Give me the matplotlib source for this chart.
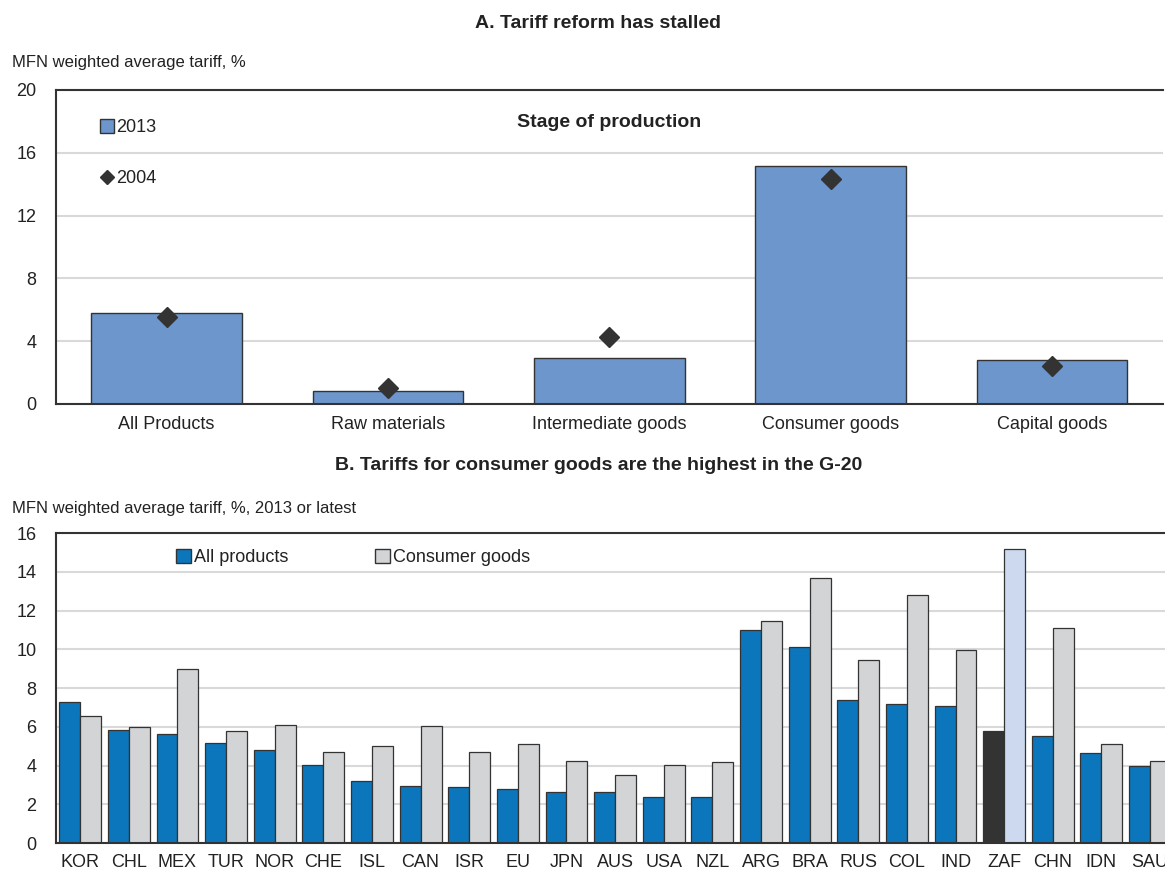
import matplotlib
matplotlib.use('Agg')
import matplotlib.pyplot as plt
import numpy as np
from matplotlib.patches import Patch

plt.rcParams['font.family'] = ['Liberation Sans Narrow', 'Liberation Sans', 'DejaVu Sans']

# panel A
stages = ['All Products', 'Raw materials', 'Intermediate goods', 'Consumer goods', 'Capital goods']
tariff_2013 = [5.77, 0.83, 2.92, 15.16, 2.80]
tariff_2004 = [5.56, 1.0, 4.26, 14.36, 2.44]

# panel B
countries = ['KOR', 'CHL', 'MEX', 'TUR', 'NOR', 'CHE', 'ISL', 'CAN', 'ISR', 'EU', 'JPN', 'AUS',
             'USA', 'NZL', 'ARG', 'BRA', 'RUS', 'COL', 'IND', 'ZAF', 'CHN', 'IDN', 'SAU']
all_products = [7.30, 5.82, 5.63, 5.18, 4.82, 4.04, 3.18, 2.94, 2.87, 2.81, 2.62, 2.62,
                2.39, 2.39, 11.02, 10.12, 7.37, 7.16, 7.06, 5.77, 5.51, 4.65, 3.96]
consumer_goods = [6.54, 5.97, 9.00, 5.77, 6.08, 4.70, 4.99, 6.04, 4.68, 5.11, 4.23, 3.51,
                  4.04, 4.17, 11.48, 13.66, 9.47, 12.82, 9.97, 15.20, 11.08, 5.11, 4.23]
highlight = 'ZAF'

text_col = '#222222'
edge_col = '#333333'
grid_col = '#D9D9D9'

fig = plt.figure(figsize=(11.65, 8.71), dpi=100)

# ---------------- panel A ----------------
ax1 = fig.add_axes([0.048, 0.5362, 0.950, 0.3605])
x1 = np.arange(len(stages))
bars = ax1.bar(x1, tariff_2013, width=0.68, color='#6C96CC', edgecolor=edge_col, linewidth=1.0,
               label='2013', zorder=2)
pts, = ax1.plot(x1, tariff_2004, linestyle='none', marker='D', markersize=10, color='#333333',
                label='2004', zorder=3)
ax1.set_xlim(-0.5, len(stages) - 0.5)
ax1.set_ylim(0, 20)
ax1.set_yticks([0, 4, 8, 12, 16, 20])
ax1.set_xticks(x1)
ax1.set_xticklabels(stages)
ax1.yaxis.grid(True, color=grid_col, linewidth=1.5, zorder=0)
ax1.set_axisbelow(True)
ax1.tick_params(axis='both', length=0, labelsize=13, colors=text_col, pad=9)
ax1.tick_params(axis='y', pad=14)
for s in ['left', 'top', 'bottom']:
    ax1.spines[s].set_color(edge_col)
    ax1.spines[s].set_linewidth(1.5)
ax1.spines['right'].set_visible(False)
ax1.text(0.5, 0.895, 'Stage of production', transform=ax1.transAxes, ha='center', va='center',
         fontsize=14, fontweight='bold', color=text_col)
h2013 = Patch(facecolor='#6C96CC', edgecolor=edge_col, label='2013')
ax1.legend(handles=[h2013, pts], loc='upper left', bbox_to_anchor=(0.025, 0.96), frameon=False,
           fontsize=13, handlelength=0.8, handleheight=0.8, handletextpad=0.1,
           labelspacing=1.9, labelcolor=text_col, markerscale=0.7)

fig.text(0.5135, 0.973, 'A. Tariff reform has stalled', ha='center', va='center',
         fontsize=14, fontweight='bold', color=text_col)
fig.text(0.010, 0.928, 'MFN weighted average tariff, %', ha='left', va='center',
         fontsize=12, color=text_col)

# ---------------- panel B ----------------
ax2 = fig.add_axes([0.048, 0.0321, 0.960, 0.3559])
x2 = np.arange(len(countries))
bw = 0.43
blue_cols = ['#333333' if c == highlight else '#0B76BB' for c in countries]
grey_cols = ['#CCD9EF' if c == highlight else '#D3D4D6' for c in countries]
ax2.bar(x2 - bw / 2, all_products, width=bw, color=blue_cols, edgecolor=edge_col,
        linewidth=0.9, zorder=2)
ax2.bar(x2 + bw / 2, consumer_goods, width=bw, color=grey_cols, edgecolor=edge_col,
        linewidth=0.9, zorder=2)
ax2.set_xlim(-0.5, len(countries) - 0.5)
ax2.set_ylim(0, 16)
ax2.set_yticks(range(0, 17, 2))
ax2.set_xticks(x2)
ax2.set_xticklabels(countries)
ax2.yaxis.grid(True, color=grid_col, linewidth=1.5, zorder=0)
ax2.set_axisbelow(True)
ax2.tick_params(axis='both', length=0, labelsize=13, colors=text_col, pad=8)
ax2.tick_params(axis='y', pad=14)
for s in ['left', 'top', 'bottom']:
    ax2.spines[s].set_color(edge_col)
    ax2.spines[s].set_linewidth(1.5)
ax2.spines['right'].set_visible(False)

handles = [Patch(facecolor='#0B76BB', edgecolor=edge_col, label='All products'),
           Patch(facecolor='#D3D4D6', edgecolor=edge_col, label='Consumer goods')]
ax2.legend(handles=handles, loc='upper left', bbox_to_anchor=(0.093, 1.0), ncol=2, frameon=False,
           fontsize=13, handlelength=0.8, handleheight=0.8, handletextpad=0.2,
           columnspacing=4.8, labelcolor=text_col)

fig.text(0.5135, 0.466, 'B. Tariffs for consumer goods are the highest in the G-20', ha='center',
         va='center', fontsize=14, fontweight='bold', color=text_col)
fig.text(0.010, 0.416, 'MFN weighted average tariff, %, 2013 or latest', ha='left', va='center',
         fontsize=12, color=text_col)

fig.savefig('out.png', dpi=100)
